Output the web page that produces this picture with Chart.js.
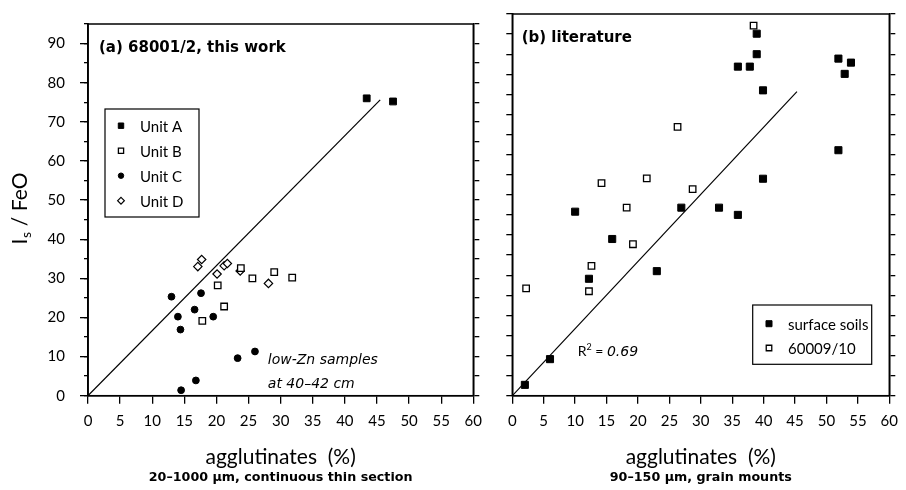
<!DOCTYPE html>
<html lang="en">
<head>
<meta charset="UTF-8">
<title>Is/FeO vs agglutinates</title>
<script src="https://cdn.jsdelivr.net/npm/chart.js"></script>
<style>
  body { margin: 0; background: #fff; }
  #wrap { position: relative; width: 906px; height: 490px; }
  #wrap canvas { position: absolute; top: 0; }
</style>
</head>
<body>
<div id="wrap">
  <canvas id="grafA" width="490" height="490" style="left:0"></canvas>
  <canvas id="grafB" width="416" height="490" style="left:490px"></canvas>
</div>
<script>
// ---- dados (agglutinates %, Is/FeO) ----
// (a) 68001/2, this work
const unitA = [[43.4, 76.0], [47.5, 75.2]]
const unitB = [[17.8, 19.1], [20.2, 28.2], [21.2, 22.8], [23.8, 32.6], [25.6, 30.0], [29.0, 31.6], [31.8, 30.2]]
const unitC = [[13.0, 25.3], [14.0, 20.2], [14.4, 16.9], [17.6, 26.2], [16.6, 22.0], [19.5, 20.2],
               [14.5, 1.4], [16.8, 3.9], [23.3, 9.6], [26.0, 11.3]]
const unitD = [[17.1, 33.0], [17.7, 34.8], [20.1, 31.1], [21.2, 33.2], [21.7, 33.8], [23.7, 31.9], [28.1, 28.7]]
const fitA = [[0, 0], [45.5, 75.6]]

// (b) literature
const surfaceSoils = [[2.0, 2.7], [6.0, 9.1], [10.0, 45.8], [12.2, 29.1], [15.9, 39.0], [23.0, 31.0],
                      [26.9, 46.8], [32.9, 46.8], [35.9, 45.0], [35.9, 81.9], [37.8, 81.9], [38.9, 85.0],
                      [38.9, 90.1], [39.9, 76.0], [39.9, 54.0], [51.9, 83.9], [52.9, 80.1], [53.9, 82.9],
                      [51.9, 61.1]]
const lit60009 = [[2.2, 26.7], [12.2, 26.0], [12.6, 32.3], [14.2, 52.9], [18.2, 46.8], [19.2, 37.7],
                  [21.4, 54.1], [26.3, 66.9], [28.7, 51.4], [38.4, 92.1]]
const fitB = [[0, 0], [45.3, 75.7]]

// ---- eixos ----
const xTicks = [0, 5, 10, 15, 20, 25, 30, 35, 40, 45, 50, 55, 60]
const yTicks = [0, 10, 20, 30, 40, 50, 60, 70, 80, 90]
const yMinorTicks = [0, 5, 10, 15, 20, 25, 30, 35, 40, 45, 50, 55, 60, 65, 70, 75, 80, 85, 90, 95]

const pts = arr => arr.map(p => ({ x: p[0], y: p[1] }))
const setTicks = lista => s => { s.ticks = lista.map(v => ({ value: v })) }

const FONTE = 'Lato, "DejaVu Sans", sans-serif'
const NEGRITO = 'bold 15px "DejaVu Sans", sans-serif'

function marcador(ctx, estilo, r, x, y) {
  ctx.beginPath()
  if (estilo === 'circle') {
    ctx.arc(x, y, r, 0, Math.PI * 2)
  } else if (estilo === 'rectRot') {
    ctx.moveTo(x, y - r); ctx.lineTo(x + r, y); ctx.lineTo(x, y + r); ctx.lineTo(x - r, y); ctx.closePath()
  } else {
    const s = r * Math.SQRT1_2
    ctx.rect(x - s, y - s, 2 * s, 2 * s)
  }
  ctx.fill(); ctx.stroke()
}

const textos = {
  id: 'textos',
  afterDraw(chart, args, o) {
    const ctx = chart.ctx, ca = chart.chartArea
    const sx = chart.scales.x, sy = chart.scales.y
    ctx.save()
    ctx.strokeStyle = '#000'; ctx.lineWidth = 1.5
    ctx.strokeRect(ca.left, ca.top, ca.right - ca.left, ca.bottom - ca.top)
    ctx.fillStyle = '#000'

    // titulo do painel
    ctx.font = NEGRITO
    ctx.textAlign = 'left'; ctx.textBaseline = 'middle'
    ctx.fillText(o.titulo, ca.left + o.tituloDx, ca.top + 24)

    // titulo do eixo x
    const cx = (ca.left + ca.right) / 2
    ctx.textAlign = 'center'
    ctx.font = '21px ' + FONTE
    ctx.fillText('agglutinates  (%)', cx, 457)
    ctx.font = 'bold 12.7px "DejaVu Sans", sans-serif'
    ctx.fillText(o.sub, cx, 478)

    // titulo do eixo y (Is / FeO)
    if (o.yTitulo) {
      ctx.save()
      ctx.translate(27, 209)
      ctx.rotate(-Math.PI / 2)
      ctx.textAlign = 'left'; ctx.textBaseline = 'alphabetic'
      ctx.font = '21px ' + FONTE
      const wI = ctx.measureText('I').width
      const wR = ctx.measureText(' / FeO').width
      ctx.font = '14px ' + FONTE
      const wS = ctx.measureText('s').width
      let x0 = -(wI + wS + wR) / 2
      ctx.font = '21px ' + FONTE; ctx.fillText('I', x0, 0)
      ctx.font = '14px ' + FONTE; ctx.fillText('s', x0 + wI + 0.5, 4)
      ctx.font = '21px ' + FONTE; ctx.fillText(' / FeO', x0 + wI + wS + 1, 0)
      ctx.restore()
    }

    // notas ancoradas nos dados
    ctx.textAlign = 'left'; ctx.textBaseline = 'middle'
    ;(o.notas || []).forEach(n => {
      let x = sx.getPixelForValue(n.x)
      const y = sy.getPixelForValue(n.y)
      n.partes.forEach(p => {
        ctx.font = p.font
        ctx.fillText(p.t, x, y + (p.dy || 0))
        x += ctx.measureText(p.t).width
      })
    })

    // legenda
    const L = o.legenda
    const bx = ca.left + L.dx, by = ca.top + L.dy
    ctx.lineWidth = 1.2
    ctx.strokeRect(bx, by, L.w, L.h)
    ctx.font = '15px ' + FONTE
    chart.data.datasets.filter(d => !d.semLegenda).forEach((d, i) => {
      const yy = by + L.y0 + i * L.passo
      ctx.fillStyle = d.backgroundColor; ctx.strokeStyle = d.borderColor; ctx.lineWidth = d.borderWidth
      marcador(ctx, d.pointStyle, d.pointRadius * L.escala, bx + L.mx, yy)
      ctx.fillStyle = '#000'
      ctx.fillText(d.label, bx + L.tx, yy + 1)
    })
    ctx.restore()
  }
}

function eixoX() {
  return {
    type: 'linear', position: 'bottom', min: 0, max: 60,
    afterBuildTicks: setTicks(xTicks),
    ticks: { color: '#000', font: { family: FONTE, size: 15 }, padding: 8, maxRotation: 0, autoSkip: false },
    grid: { drawOnChartArea: false, tickLength: 8, color: '#000', lineWidth: 1.3 },
    border: { color: '#000', width: 1.5 },
    afterFit: s => { s.height = 94.3 }
  }
}
function eixoY(pos, larg, tl, lista, peso) {
  return {
    type: 'linear', position: pos, min: 0, max: 95, weight: peso,
    afterBuildTicks: setTicks(lista),
    ticks: { display: false },
    grid: { drawOnChartArea: false, tickLength: tl, color: '#000', lineWidth: 1.3 },
    border: { color: '#000', width: 1.5 },
    afterFit: s => { s.width = larg }
  }
}
const linhaFit = (dados) => ({
  label: 'fit', data: pts(dados), showLine: true, pointRadius: 0, borderColor: '#000',
  borderWidth: 1.2, order: 10, semLegenda: true
})

// ---- painel (a) ----
const yA = eixoY('left', 88, 8, yTicks, 1)
yA.ticks = { display: true, color: '#000', font: { family: FONTE, size: 15 }, padding: 15, autoSkip: false }

new Chart(document.getElementById('grafA'), {
  type: 'scatter',
  data: {
    datasets: [
      { label: 'Unit A', data: pts(unitA), pointStyle: 'rect', pointRadius: 4.8, backgroundColor: '#000', borderColor: '#000', borderWidth: 1 },
      { label: 'Unit B', data: pts(unitB), pointStyle: 'rect', pointRadius: 4.6, backgroundColor: '#fff', borderColor: '#000', borderWidth: 1.3 },
      { label: 'Unit C', data: pts(unitC), pointStyle: 'circle', pointRadius: 3.4, backgroundColor: '#000', borderColor: '#000', borderWidth: 1 },
      { label: 'Unit D', data: pts(unitD), pointStyle: 'rectRot', pointRadius: 4.2, backgroundColor: '#fff', borderColor: '#000', borderWidth: 1.2 },
      linhaFit(fitA)
    ]
  },
  options: {
    responsive: false, animation: false, events: [],
    layout: { padding: { left: 0, right: 10.2, top: 14, bottom: 0 } },
    scales: {
      x: eixoX(),
      y: yA,
      yMenor: eixoY('left', 0, 4, yMinorTicks, 0),
      yDir: eixoY('right', 6, 6, yMinorTicks, 0)
    },
    plugins: {
      legend: { display: false }, tooltip: { enabled: false },
      textos: {
        titulo: '(a) 68001/2, this work', tituloDx: 11,
        sub: '20\u20131000 \u03bcm, continuous thin section',
        yTitulo: true,
        notas: [
          { x: 28, y: 9.1, partes: [{ t: 'low-Zn samples', font: 'italic 14px "DejaVu Sans", sans-serif' }] },
          { x: 28, y: 2.9, partes: [{ t: 'at 40\u201342 cm', font: 'italic 14px "DejaVu Sans", sans-serif' }] }
        ],
        legenda: { dx: 17, dy: 85, w: 94, h: 108, y0: 16.7, passo: 25, mx: 16, tx: 35, escala: 0.8 }
      }
    }
  },
  plugins: [textos]
})

// ---- painel (b) ----
new Chart(document.getElementById('grafB'), {
  type: 'scatter',
  data: {
    datasets: [
      { label: 'surface soils', data: pts(surfaceSoils), pointStyle: 'rect', pointRadius: 5, backgroundColor: '#000', borderColor: '#000', borderWidth: 1 },
      { label: '60009/10', data: pts(lit60009), pointStyle: 'rect', pointRadius: 4.6, backgroundColor: '#fff', borderColor: '#000', borderWidth: 1.3 },
      linhaFit(fitB)
    ]
  },
  options: {
    responsive: false, animation: false, events: [],
    layout: { padding: { left: 0, right: 4.3, top: 14, bottom: 0 } },
    scales: {
      x: eixoX(),
      y: eixoY('left', 22.3, 6, yMinorTicks, 0),
      yDir: eixoY('right', 6, 6, yMinorTicks, 0)
    },
    plugins: {
      legend: { display: false }, tooltip: { enabled: false },
      textos: {
        titulo: '(b) literature', tituloDx: 9.4,
        sub: '90\u2013150 \u03bcm, grain mounts',
        yTitulo: false,
        notas: [
          { x: 10.4, y: 10.9, partes: [
            { t: 'R', font: '14px ' + FONTE },
            { t: '2', font: '9px ' + FONTE, dy: -5 },
            { t: ' = ', font: '14px ' + FONTE },
            { t: '0.69', font: 'italic 14px "DejaVu Sans", sans-serif' }
          ] }
        ],
        legenda: { dx: 240.4, dy: 291, w: 119, h: 59.3, y0: 18.7, passo: 24.3, mx: 16.3, tx: 35.3, escala: 0.85 }
      }
    }
  },
  plugins: [textos]
})
</script>
</body>
</html>
